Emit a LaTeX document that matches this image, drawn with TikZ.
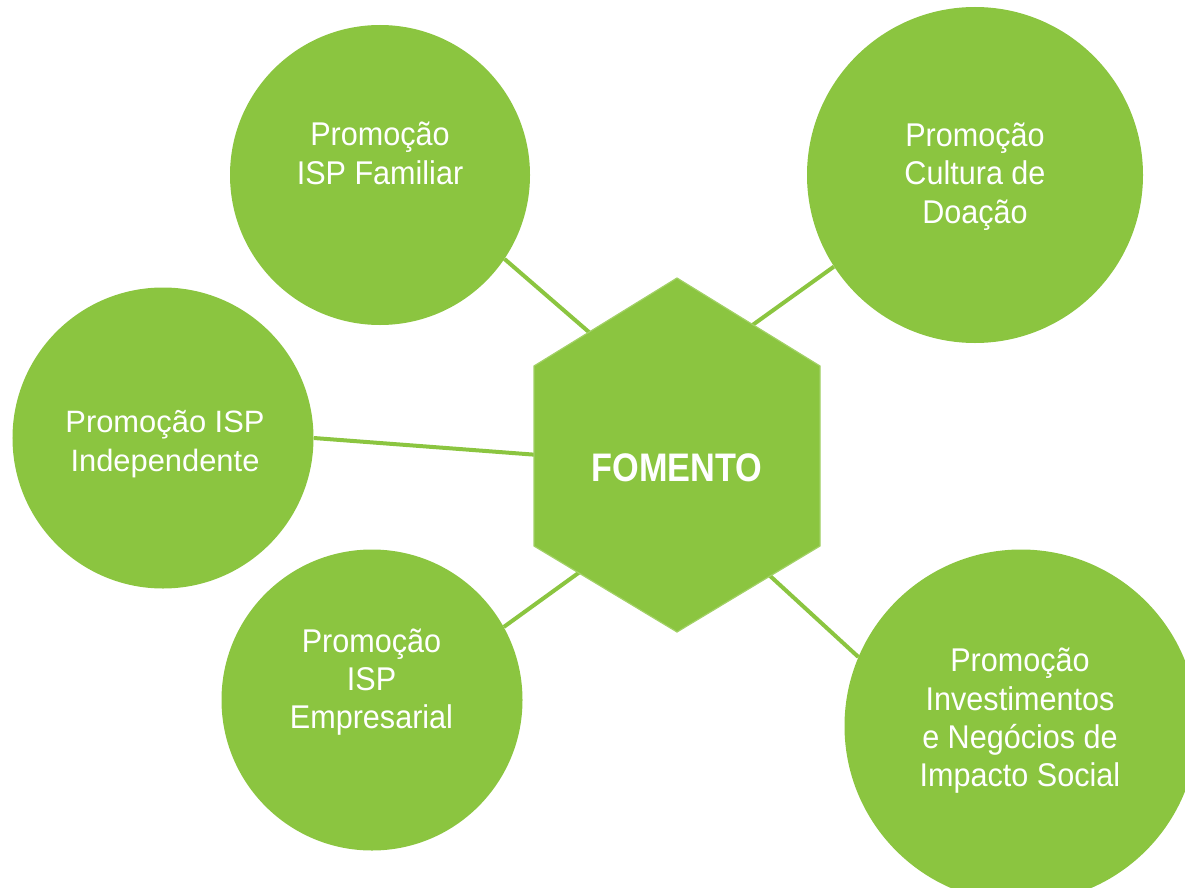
\documentclass[tikz,border=0pt]{standalone}
\usepackage{fontspec}
\setmainfont{Liberation Sans}
\newfontfamily\dinfont[FakeStretch=0.93]{Liberation Sans}
\newfontfamily\arialfont{Liberation Sans}
\newfontfamily\fomfont[FakeStretch=0.86]{Liberation Sans}
\definecolor{grn}{HTML}{8BC540}
\tikzset{
  bub/.style={circle, fill=grn, draw=none, inner sep=0pt},
  txt/.style={text=white, align=center, inner sep=0pt, font=\dinfont\fontsize{33}{38.5}\selectfont},
  txtarial/.style={text=white, align=center, inner sep=0pt, font=\arialfont\fontsize{31}{39}\selectfont},
  fomtxt/.style={text=white, inner sep=0pt, font=\fomfont\bfseries\fontsize{40}{40}\selectfont},
  link/.style={draw=grn, line width=4bp}
}
\begin{document}
\begin{tikzpicture}[x=1bp,y=-1bp]
\useasboundingbox (0,0) rectangle (1185,888);
\clip (0,0) rectangle (1185,888);

% circles
\node[bub, minimum size=300bp] (fam) at (380,175) {};
\node[bub, minimum size=336bp] (cul) at (975,175) {};
\node[bub, minimum size=301bp] (ind) at (163,438) {};
\node[bub, minimum size=301bp] (emp) at (372,700) {};
\node[bub, minimum size=353bp] (inv) at (1021,726) {};

% hexagon corners and connector ends
\coordinate (hT) at (677,278);
\coordinate (hTR) at (820,366);
\coordinate (hBR) at (820,546);
\coordinate (hB) at (677,632);
\coordinate (hBL) at (534,546);
\coordinate (hTL) at (534,366);
\coordinate (h1) at (605,346);
\coordinate (h2) at (740,334);
\coordinate (h3) at (552,456);
\coordinate (h4) at (595,561);
\coordinate (h5) at (756,563);

% connectors
\draw[link] (fam.-34) -- (h1);
\draw[link] (cul.213.6) -- (h2);
\draw[link] (ind.0.4) -- (h3);
\draw[link] (emp.29.1) -- (h4);
\draw[link] (inv.157.2) -- (h5);

% hexagon
\fill[grn] (hT) -- (hTR) -- (hBR) -- (hB) -- (hBL) -- (hTL) -- cycle;
\draw[grn!80!white, line width=1.2bp] (hT) -- (hTR) -- (hBR) -- (hB) -- (hBL) -- (hTL) -- cycle;

% texts
\node[fomtxt] (fom) at (677,467.5) {FOMENTO};
\node[txt] (famt) at (380,153.5) {Promoção\\ISP Familiar};
\node[txt] (cult) at (975,176.5) {Promoção\\Cultura de\\Doação};
\node[txtarial] (indt) at (165,444) {Promoção ISP\\Independente};
\node[txt] (empt) at (371.5,682) {Promoção\\ISP\\Empresarial};
\node[txt] (invt) at (1020,721) {Promoção\\Investimentos\\e Negócios de\\Impacto Social};
\end{tikzpicture}
\end{document}
